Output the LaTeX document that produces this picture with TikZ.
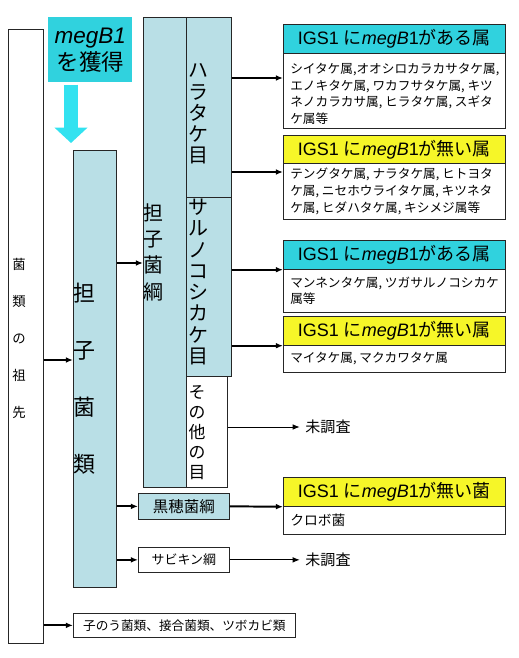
\documentclass[tikz,border=0pt]{standalone}
\usepackage{fontspec}
\setmainfont{Noto Sans CJK JP}
\newfontfamily\latin{Liberation Sans}
\usetikzlibrary{arrows.meta}
\definecolor{paleblue}{RGB}{185,223,230}
\definecolor{headcyan}{RGB}{48,210,222}
\definecolor{arrowcyan}{RGB}{50,226,240}
\definecolor{headyellow}{RGB}{246,246,40}
\newlength\pxu
\setlength\pxu{0.025cm}
\newcommand\megb{{\latin\itshape megB}}
\newcommand\igs[1]{{\latin IGS1 }に\megb{\latin 1}#1}
\begin{document}
\begin{tikzpicture}[
x=0.025cm, y=-0.025cm,
frame/.style 2 args={draw=black!85, line width=0.5pt, inner sep=0pt, anchor=north west,
  minimum width=#1\pxu, minimum height=#2\pxu},
vtext/.style={align=center, inner sep=0pt},
head/.style={font=\fontsize{12.8}{14}\selectfont},
body/.style={anchor=west, align=left, inner sep=0pt, font=\fontsize{9}{11.9}\selectfont},
arr/.style={-{Latex[length=5pt,width=4pt]}, line width=1.4pt},
thinarr/.style={-{Latex[length=5pt,width=4pt]}, line width=0.7pt},
nr/.style={font=\fontsize{10.7}{12}\selectfont, inner sep=1pt}
]
\useasboundingbox (0,0) rectangle (519,658);
% ancestor column
\node[frame={35}{614}, fill=white] (anc) at (8,29) {};
\node[vtext, font=\fontsize{9.5}{26.3}\selectfont] (ancT) at (19,338) {菌\\類\\の\\祖\\先};
% megB1 gained
\node[frame={84}{65}, draw=none, fill=headcyan, align=center,
  font=\fontsize{16}{19.2}\selectfont] (gain) at (48,17) {{\latin\itshape megB1}\\を獲得};
% basidiomycetes
\node[frame={43}{437}, fill=paleblue] (bas) at (73,150) {};
\node[vtext, font=\fontsize{15.6}{40.5}\selectfont] (basT) at (84,379) {担\\子\\菌\\類};
\draw[line width=10pt, arrowcyan, -{Triangle[length=11pt,width=23pt]},
  shorten <=2\pxu, shorten >=7\pxu] (gain.south -| 71,0) -- (bas.north -| 71,0);
% classes and orders
\node[frame={43}{470}, fill=paleblue] (bascl) at (143,17) {};
\node[vtext, font=\fontsize{14.2}{18.7}\selectfont] (basclT) at (153,252) {担\\子\\菌\\綱};
\node[frame={45}{180}, fill=paleblue] (agar) at (186,17) {};
\node[vtext, font=\fontsize{14.2}{15.1}\selectfont] (agarT) at (198,114) {ハ\\ラ\\タ\\ケ\\目};
\node[frame={45}{179}, fill=paleblue] (poly) at (186,197) {};
\node[vtext, font=\fontsize{14.2}{15.1}\selectfont] (polyT) at (198,282) {サ\\ル\\ノ\\コ\\シ\\カ\\ケ\\目};
\node[frame={41}{111}, fill=white] (other) at (186,376) {};
\node[vtext, font=\fontsize{12}{14.2}\selectfont] (otherT) at (197,433) {そ\\の\\他\\の\\目};
\node[frame={91}{26}, fill=paleblue, font=\fontsize{11}{12}\selectfont] (smut) at (138,493) {黒穂菌綱};
\node[frame={91}{25}, fill=white, font=\fontsize{9.2}{11}\selectfont] (rust) at (138,547) {サビキン綱};
\node[frame={222}{24}, fill=white, font=\fontsize{9}{11}\selectfont] (asco) at (73,613) {子のう菌類、接合菌類、ツボカビ類};
% genus boxes
\node[frame={222}{29}, fill=headcyan, head] (h1) at (283,24) {\igs{がある属}};
\node[frame={222}{75}, fill=white] (b1) at (283,53) {};
\node[body] (b1T) at ([xshift=7\pxu, yshift=-3\pxu]b1.west) {シイタケ属,オオシロカラカサタケ属,\\エノキタケ属, ワカフサタケ属, キツ\\ネノカラカサ属, ヒラタケ属, スギタ\\ケ属等};
\node[frame={222}{28}, fill=headyellow, head] (h2) at (283,135) {\igs{が無い属}};
\node[frame={222}{56}, fill=white] (b2) at (283,163) {};
\node[body] (b2T) at ([xshift=7\pxu]b2.west) {テングタケ属, ナラタケ属, ヒトヨタ\\ケ属, ニセホウライタケ属, キツネタ\\ケ属, ヒダハタケ属, キシメジ属等};
\node[frame={222}{29}, fill=headcyan, head] (h3) at (283,240) {\igs{がある属}};
\node[frame={222}{43}, fill=white] (b3) at (283,269) {};
\node[body] (b3T) at ([xshift=7\pxu]b3.west) {マンネンタケ属, ツガサルノコシカケ\\属等};
\node[frame={222}{29}, fill=headyellow, head] (h4) at (283,316) {\igs{が無い属}};
\node[frame={222}{27}, fill=white] (b4) at (283,345) {};
\node[body] (b4T) at ([xshift=7\pxu]b4.west) {マイタケ属, マクカワタケ属};
\node[frame={222}{29}, fill=headyellow, head] (h5) at (283,477) {\igs{が無い菌}};
\node[frame={222}{28}, fill=white] (b5) at (283,506) {};
\node[body, font=\fontsize{9.8}{11}\selectfont] (b5T) at ([xshift=7\pxu]b5.west) {クロボ菌};
\node[nr] (nr1) at (328,427) {未調査};
\node[nr] (nr2) at (328,560) {未調査};
% connectors
\draw[arr] (anc.east |- 0,360) -- (bas.west |- 0,360);
\draw[arr] (anc.east |- asco.west) -- (asco.west);
\draw[arr] (bas.east |- 0,263) -- (bascl.west |- 0,263);
\draw[arr] (bas.east |- smut.west) -- (smut.west);
\draw[arr] (bas.east |- rust.west) -- (rust.west);
\draw[arr] (agar.east |- 0,78) -- (b1.west |- 0,78);
\draw[arr] (agar.east |- 0,172) -- (b2.west |- 0,172);
\draw[arr] (poly.east |- h3.south west) -- (h3.south west);
\draw[arr] (poly.east |- h4.south west) -- (h4.south west);
\draw[arr] (smut.east) -- (h5.south west);
\draw[thinarr] (other.east |- nr1.west) -- ([xshift=-4\pxu]nr1.west);
\draw[thinarr] (rust.east) -- ([xshift=-4\pxu]nr2.west |- rust.east);
\end{tikzpicture}
\end{document}
